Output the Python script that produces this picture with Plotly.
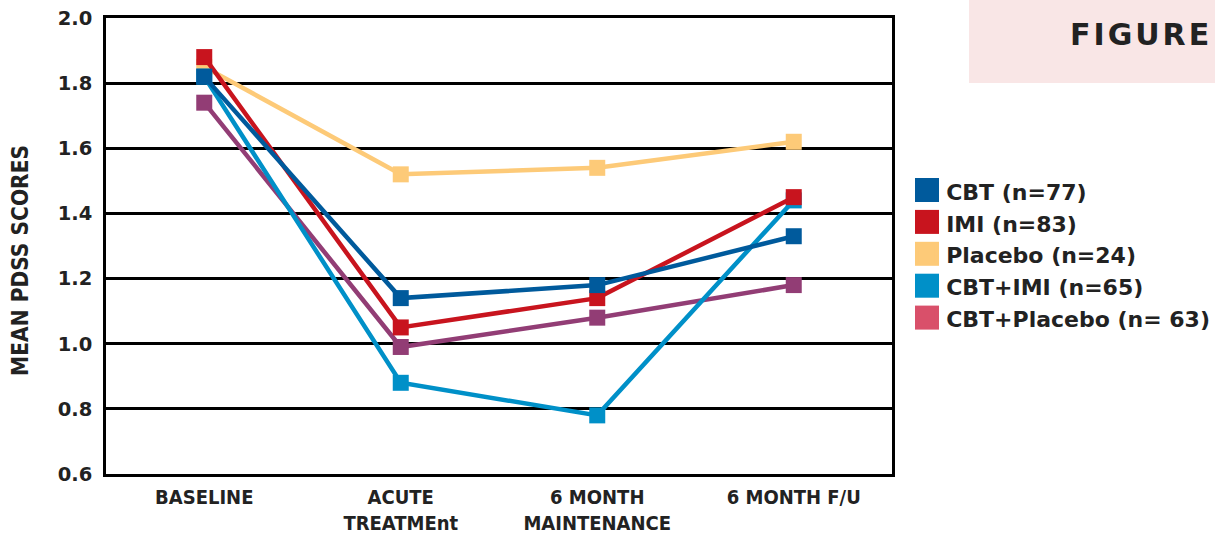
import plotly.graph_objects as go

categories = ["BASELINE", "ACUTE<br>TREATMEnt", "6 MONTH<br>MAINTENANCE", "6 MONTH F/U"]
cbt = [1.82, 1.14, 1.18, 1.33]
imi = [1.88, 1.05, 1.14, 1.45]
placebo = [1.85, 1.52, 1.54, 1.62]
cbt_imi = [1.82, 0.88, 0.78, 1.44]
cbt_placebo = [1.74, 0.99, 1.08, 1.18]

series = [
    ("CBT+Placebo (n= 63)", cbt_placebo, "#923d75", "#d9506a"),
    ("Placebo (n=24)", placebo, "#fdca78", "#fdca78"),
    ("CBT+IMI (n=65)", cbt_imi, "#0090c8", "#0090c8"),
    ("IMI (n=83)", imi, "#c8141e", "#c8141e"),
    ("CBT (n=77)", cbt, "#005a9c", "#005a9c"),
]
legend_order = ["CBT (n=77)", "IMI (n=83)", "Placebo (n=24)", "CBT+IMI (n=65)", "CBT+Placebo (n= 63)"]

W, H = 1215, 535
L, R, T, B = 106, 323, 18, 61
PW, PH = W - L - R, H - T - B


def px(x):
    return (x - L) / PW


def py(y):
    return 1 - (y - T) / PH


fig = go.Figure()
for name, vals, lc, sc in series:
    fig.add_trace(go.Scatter(
        x=categories, y=vals, mode="lines+markers", name=name, showlegend=False,
        line=dict(color=lc, width=4.5),
        marker=dict(symbol="square", size=16, color=lc),
    ))
swatch = {n: sc for n, _, _, sc in series}
for i, name in enumerate(legend_order):
    fig.add_trace(go.Scatter(
        x=[None], y=[None], mode="markers", name=name, showlegend=True,
        marker=dict(symbol="square", size=24, color=swatch[name]),
        legendrank=i,
    ))

# enlarge legend swatches (plotly caps legend symbols at 16px)
legend_row0, legend_row_h, sw_size, sw_x = 190, 31.9, 24, 915
for i, name in enumerate(legend_order):
    cy = legend_row0 + i * legend_row_h
    fig.add_shape(type="rect", xref="paper", yref="paper",
                  x0=px(sw_x), x1=px(sw_x + sw_size),
                  y0=py(cy + sw_size / 2), y1=py(cy - sw_size / 2),
                  fillcolor=swatch[name], line=dict(width=0), layer="above")

wide = "DejaVu Sans"
cond = "DejaVu Sans Condensed, Liberation Sans"
fig.update_layout(
    width=W, height=H,
    margin=dict(l=L, r=R, t=T, b=B, autoexpand=False),
    paper_bgcolor="white", plot_bgcolor="white",
    showlegend=True,
    legend=dict(x=1.018, y=0.665, xanchor="left", yanchor="top",
                font=dict(family=wide, size=22, color="#222", weight="bold"),
                tracegroupgap=0, itemsizing="trace", traceorder="normal",
                bgcolor="rgba(0,0,0,0)"),
    font=dict(family=wide, color="#222"),
)
fig.update_xaxes(
    type="category", range=[-0.5, 3.5], automargin=False,
    showline=True, linecolor="black", linewidth=2.5, mirror=True,
    showgrid=False, ticks="", ticklabelstandoff=3,
    tickfont=dict(family=cond, size=20, color="#222", weight="bold"),
)
fig.update_yaxes(
    range=[0.6, 2.0], dtick=0.2, tick0=0.6, tickformat=".1f", automargin=False,
    showline=True, linecolor="black", linewidth=2.5, mirror=True,
    showgrid=True, gridcolor="black", gridwidth=2.5, zeroline=False,
    ticks="", ticklabelstandoff=7,
    tickfont=dict(family=wide, size=19.5, color="#222", weight="bold"),
)
fig.add_annotation(text="MEAN PDSS SCORES", xref="paper", yref="paper",
                   x=px(20), y=py(261), textangle=-90,
                   xanchor="center", yanchor="middle", showarrow=False,
                   font=dict(family=cond, size=22.5, color="#222", weight="bold"))
fig.add_shape(type="rect", xref="paper", yref="paper",
              x0=px(969), x1=px(1215), y0=py(83), y1=py(0),
              fillcolor="#f9e6e6", line=dict(width=0), layer="below")
fig.add_annotation(text="F\u200aI\u200aG\u200aU\u200aR\u200aE", xref="paper", yref="paper",
                   x=px(1211), y=py(34),
                   xanchor="right", yanchor="middle", showarrow=False,
                   font=dict(family=wide, size=30, color="#222", weight="bold"))

fig.write_html("out.html")
